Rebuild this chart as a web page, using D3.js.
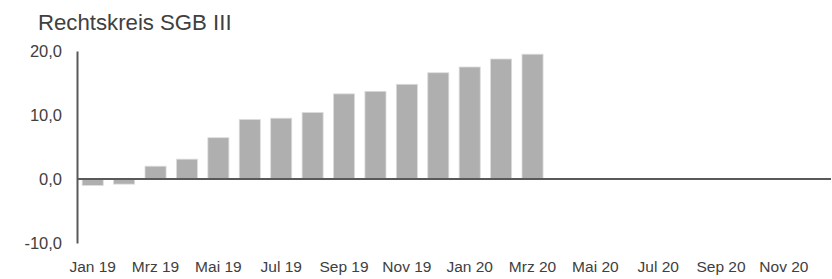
<!DOCTYPE html>
<html>
<head>
<meta charset="utf-8">
<script src="https://cdn.jsdelivr.net/npm/d3@7"></script>
<style>
  body { margin: 0; background: #fff; }
  svg { display: block; font-family: "Liberation Sans", Arial, sans-serif; }
</style>
</head>
<body>
<svg id="chart" width="832" height="279"></svg>
<script>
const title = "Rechtskreis SGB III";
const months = ["Jan 19","Feb 19","Mrz 19","Apr 19","Mai 19","Jun 19","Jul 19","Aug 19","Sep 19","Okt 19","Nov 19","Dez 19",
                "Jan 20","Feb 20","Mrz 20","Apr 20","Mai 20","Jun 20","Jul 20","Aug 20","Sep 20","Okt 20","Nov 20","Dez 20"];
const values = [-1.0, -0.8, 2.0, 3.1, 6.45, 9.3, 9.5, 10.4, 13.3, 13.7, 14.8, 16.6, 17.5, 18.75, 19.5,
                null, null, null, null, null, null, null, null, null];
const yTicks = [-10, 0, 10, 20];
const xTickLabels = ["Jan 19","Mrz 19","Mai 19","Jul 19","Sep 19","Nov 19","Jan 20","Mrz 20","Mai 20","Jul 20","Sep 20","Nov 20"];

const svg = d3.select("#chart");
const mLeft = 77, mRight = 831, mTop = 51, mBottom = 243;

const x = d3.scaleBand().domain(months).range([mLeft, mRight]).paddingInner(0.33).paddingOuter(0.165);
const y = d3.scaleLinear().domain([-10, 20]).range([mBottom, mTop]);
const fmt = d => d3.format(".1f")(d).replace(".", ",").replace("−", "-");

svg.append("text").attr("x", 38).attr("y", 30)
  .attr("font-size", 22.2).attr("fill", "#404040").text(title);

// bars
const data = months.map((m, i) => ({m, v: values[i]})).filter(d => d.v !== null);
svg.append("g").selectAll("rect").data(data).join("rect")
  .attr("x", d => x(d.m))
  .attr("width", x.bandwidth())
  .attr("y", d => y(Math.max(0, d.v)))
  .attr("height", d => Math.abs(y(d.v) - y(0)))
  .attr("fill", "#afafaf")
  .attr("stroke", "#dcdcdc").attr("stroke-width", 0.8);

// zero line
svg.append("line").attr("x1", mLeft).attr("x2", mRight).attr("y1", y(0)).attr("y2", y(0))
  .attr("stroke", "#595959").attr("stroke-width", 2);

// y axis
const yAxis = d3.axisLeft(y).tickValues(yTicks).tickFormat(fmt).tickSize(0).tickPadding(15);
const gy = svg.append("g").attr("transform", `translate(${mLeft},0)`).call(yAxis);
gy.select(".domain").attr("stroke", "#595959").attr("stroke-width", 2);
gy.selectAll("text").attr("font-size", 16.5).attr("fill", "#404040")
  .attr("font-family", "Liberation Sans, Arial, sans-serif");

// x axis labels
const xAxis = d3.axisBottom(x).tickValues(xTickLabels).tickSize(0).tickPadding(18);
const gx = svg.append("g").attr("transform", `translate(0,${mBottom})`).call(xAxis);
gx.select(".domain").remove();
gx.selectAll("text").attr("font-size", 15.5).attr("fill", "#404040").attr("font-family", "Liberation Sans, Arial, sans-serif");
</script>
</body>
</html>
